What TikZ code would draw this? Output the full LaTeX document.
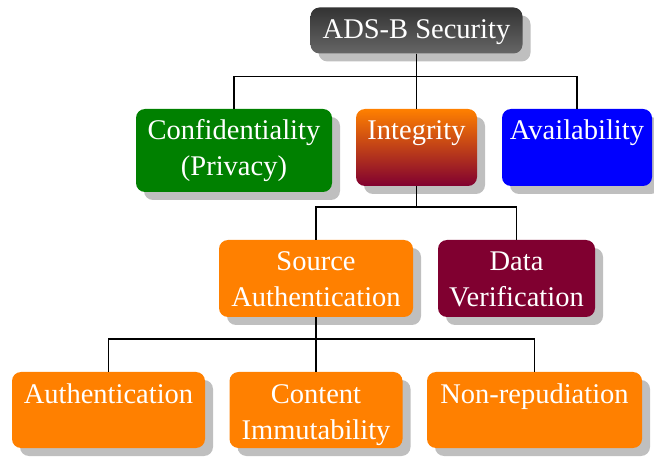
\documentclass[tikz,border=0pt]{standalone}
\usepackage{fontspec}
\setmainfont{Liberation Serif}
\usetikzlibrary{shadows}
\definecolor{maroonX}{RGB}{128,0,48}
\definecolor{orangeX}{RGB}{255,128,0}
\definecolor{greenX}{RGB}{0,128,0}
\definecolor{blueX}{RGB}{0,0,255}
\newcommand{\twolines}[2]{\begin{tabular}[t]{@{}c@{}}#1\\#2\end{tabular}}
\begin{document}
\begin{tikzpicture}[x=1pt,y=-1pt,
  box/.style={rounded corners=9pt, inner sep=0pt, text=white, text height=31pt,
    font=\fontsize{28.5}{36}\selectfont,
    drop shadow={shadow xshift=8pt, shadow yshift=-8pt, fill=black!25, opacity=1}},
  conn/.style={line width=1.5pt, black}]
\useasboundingbox (0,0) rectangle (654,457);
\node[box, top color=black!80, bottom color=black!60, minimum width=212pt, text depth=15pt] (root) at (416.5,30.5) {ADS-B Security};
\node[box, fill=greenX, minimum width=196pt, text depth=52pt] (conf) at (234,150.5) {\twolines{Confidentiality}{(Privacy)}};
\node[box, top color=orangeX, bottom color=maroonX, minimum width=121pt, text depth=46pt] (integ) at (416.5,147.5) {Integrity};
\node[box, fill=blueX, minimum width=150pt, text depth=46pt] (avail) at (577,147.5) {Availability};
\node[box, fill=orangeX, minimum width=194pt, text depth=46pt] (src) at (316,278.5) {\twolines{Source}{Authentication}};
\node[box, fill=maroonX, minimum width=157pt, text depth=46pt] (dver) at (516.5,278.5) {\twolines{Data}{Verification}};
\node[box, fill=orangeX, minimum width=193pt, text depth=45pt] (auth) at (108.5,410) {Authentication};
\node[box, fill=orangeX, minimum width=173pt, text depth=45pt] (cont) at (316,410) {\twolines{Content}{Immutability}};
\node[box, fill=orangeX, minimum width=215pt, text depth=45pt] (nrep) at (534.5,410) {Non-repudiation};
\draw[conn] (root.south) -- ++(0,23) -| (conf.north);
\draw[conn] (root.south) -- ++(0,23) -| (avail.north);
\draw[conn] (root.south) -- (integ.north);
\draw[conn] (integ.south) -- ++(0,21) -| (src.north);
\draw[conn] (integ.south) -- ++(0,21) -| (dver.north);
\draw[conn] (src.south) -- ++(0,22) -| (auth.north);
\draw[conn] (src.south) -- (cont.north);
\draw[conn] (src.south) -- ++(0,22) -| (nrep.north);
\end{tikzpicture}
\end{document}
